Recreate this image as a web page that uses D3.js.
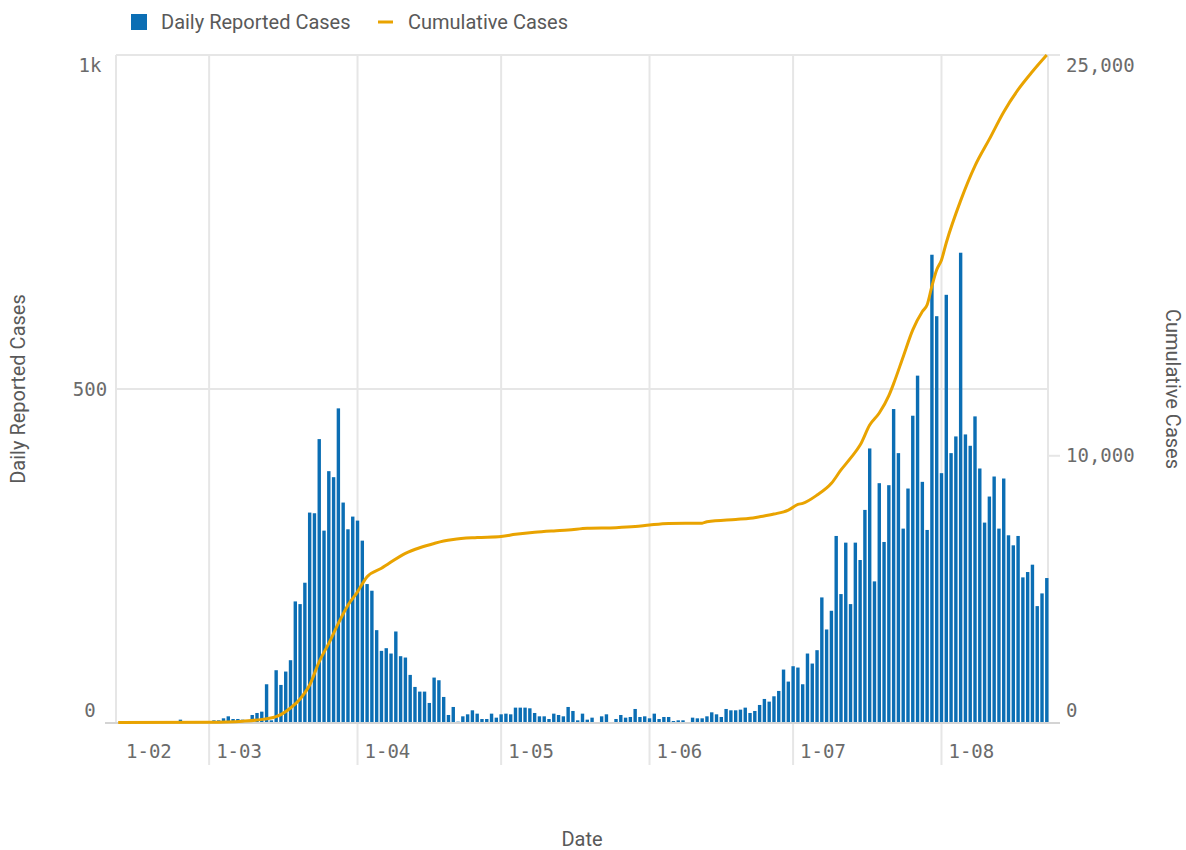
<!DOCTYPE html>
<html>
<head>
<meta charset="utf-8">
<script src="https://cdn.jsdelivr.net/npm/d3@7"></script>
<style>
  body { margin: 0; background: #ffffff; }
  text { font-family: Roboto, "Open Sans", sans-serif; }
</style>
</head>
<body>
<div id="wrapper"></div>
<script>
// daily reported cases, one value per day (Feb starts on the 11th)
const dailyFeb = [0, 0, 0, 0, 0, 0, 0, 0, 0, 0, 0, 0, 0, 5, 0, 0, 0, 0, 0];
const dailyMar = [0, 4, 4, 7, 10, 6, 6, 5, 3, 12, 15, 17, 58, 4, 79, 57, 77, 94, 182, 178,
  210, 315, 314, 425, 288, 377, 368, 471, 330, 290, 309];
const dailyApr = [303, 273, 208, 198, 139, 108, 112, 104, 137, 100, 98, 72, 54, 47, 47, 30,
  68, 64, 39, 12, 24, 2, 10, 13, 19, 14, 6, 6, 14, 8];
const dailyMay = [13, 14, 13, 23, 23, 23, 22, 15, 10, 10, 6, 14, 12, 10, 24, 18, 4, 14, 5, 8,
  1, 10, 13, 1, 6, 12, 8, 9, 21, 9, 10];
const dailyJun = [7, 14, 6, 9, 9, 3, 4, 4, 1, 8, 7, 7, 10, 16, 13, 9, 21, 19, 19, 20,
  23, 15, 18, 27, 36, 32, 40, 48, 80, 62];
const dailyJul = [85, 83, 58, 104, 89, 109, 188, 140, 168, 280, 193, 270, 178, 270, 244, 319,
  411, 212, 359, 271, 356, 470, 404, 291, 351, 460, 520, 361, 289, 701, 609];
const dailyAug = [374, 641, 404, 429, 704, 432, 415, 459, 381, 300, 339, 369, 291, 366, 281,
  266, 280, 218, 226, 237, 175, 194, 217];

// cumulative cases
const cumulativeDates = ["2020-02-11", "2020-03-01", "2020-03-08", "2020-03-11", "2020-03-15",
  "2020-03-18", "2020-03-20", "2020-03-22", "2020-03-24", "2020-03-26", "2020-03-28",
  "2020-03-30", "2020-04-01", "2020-04-03", "2020-04-06", "2020-04-11", "2020-04-14",
  "2020-04-17", "2020-04-19", "2020-04-21", "2020-04-26", "2020-05-01", "2020-05-04",
  "2020-05-08", "2020-05-12", "2020-05-15", "2020-05-19", "2020-05-25", "2020-05-29",
  "2020-06-01", "2020-06-05", "2020-06-12", "2020-06-13", "2020-06-19", "2020-06-22",
  "2020-06-24", "2020-06-27", "2020-06-30", "2020-07-02", "2020-07-03", "2020-07-06",
  "2020-07-09", "2020-07-11", "2020-07-13", "2020-07-15", "2020-07-17", "2020-07-19",
  "2020-07-21", "2020-07-22", "2020-07-24", "2020-07-26", "2020-07-28", "2020-07-29",
  "2020-07-30", "2020-07-31", "2020-08-01", "2020-08-02", "2020-08-05", "2020-08-08",
  "2020-08-11", "2020-08-14", "2020-08-17", "2020-08-20", "2020-08-23"];
const cumulativeValues = [15, 30, 70, 112, 236,
  560, 900, 1420, 2300, 2980, 3730,
  4410, 4910, 5475, 5790, 6350, 6560,
  6720, 6810, 6870, 6940, 6980, 7060,
  7140, 7190, 7220, 7290, 7310, 7350,
  7410, 7470, 7480, 7530, 7620, 7660,
  7720, 7820, 7970, 8180, 8220, 8530,
  8970, 9470, 9910, 10400, 11150, 11600,
  12250, 12700, 13710, 14710, 15400, 15650,
  16350, 16960, 17330, 17975, 19550, 20850,
  21850, 22870, 23700, 24380, 25000];

const monthStarts = ["2020-02-01", "2020-03-01", "2020-04-01", "2020-05-01", "2020-06-01",
  "2020-07-01", "2020-08-01"];
const monthLabels = ["1-02", "1-03", "1-04", "1-05", "1-06", "1-07", "1-08"];
const leftTicks = [0, 500, 1000];
const leftTickLabels = ["0", "500", "1k"];
const rightTicks = [0, 10000, 25000];
const rightTickLabels = ["0", "10,000", "25,000"];

const parseDate = d3.timeParse("%Y-%m-%d");
const firstDay = parseDate("2020-02-11");
const lastDay = parseDate("2020-08-23");

let dimensions = {
  width: 1186,
  height: 850,
  margin: { top: 55, right: 138, bottom: 127, left: 116 }
};
dimensions.boundedWidth = dimensions.width - dimensions.margin.left - dimensions.margin.right;
dimensions.boundedHeight = dimensions.height - dimensions.margin.top - dimensions.margin.bottom;

const barColor = "#0b6eb4";
const lineColor = "#e9a300";
const gridColor = "#e6e6e6";
const labelColor = "#6b6b6b";

const dailyData = [dailyFeb, dailyMar, dailyApr, dailyMay, dailyJun, dailyJul, dailyAug]
  .flat()
  .map((value, i) => ({ date: d3.timeDay.offset(firstDay, i), value }));

const cumulativeData = cumulativeDates.map((d, i) => ({
  date: parseDate(d),
  value: cumulativeValues[i]
}));

const wrapper = d3.select("#wrapper")
  .append("svg")
  .attr("width", dimensions.width)
  .attr("height", dimensions.height);

const bounds = wrapper.append("g")
  .attr("transform", `translate(${dimensions.margin.left}, ${dimensions.margin.top})`);

const xScale = d3.scaleTime()
  .domain([d3.timeHour.offset(firstDay, -10.5), d3.timeHour.offset(lastDay, 6)])
  .range([0, dimensions.boundedWidth]);

const yScale = d3.scaleLinear()
  .domain([0, 1000])
  .range([dimensions.boundedHeight, 0]);

const yScaleRight = d3.scaleLinear()
  .domain([0, 25000])
  .range([dimensions.boundedHeight, 0]);

// grid
const grid = bounds.append("g");

grid.selectAll(".hgrid")
  .data(leftTicks.filter(t => t > 0))
  .join("line")
  .attr("x1", 0)
  .attr("x2", dimensions.boundedWidth)
  .attr("y1", d => yScale(d))
  .attr("y2", d => yScale(d))
  .attr("stroke", gridColor)
  .attr("stroke-width", 2);

const monthDates = monthStarts.map(parseDate);

grid.selectAll(".vgrid")
  .data(monthDates.filter(d => xScale(d) > 0))
  .join("line")
  .attr("x1", d => xScale(d))
  .attr("x2", d => xScale(d))
  .attr("y1", 0)
  .attr("y2", dimensions.boundedHeight + 42)
  .attr("stroke", gridColor)
  .attr("stroke-width", 2);

// frame
grid.append("line")
  .attr("x1", 0).attr("x2", 0)
  .attr("y1", 0).attr("y2", dimensions.boundedHeight)
  .attr("stroke", gridColor).attr("stroke-width", 2);

grid.append("line")
  .attr("x1", dimensions.boundedWidth).attr("x2", dimensions.boundedWidth)
  .attr("y1", 0).attr("y2", dimensions.boundedHeight)
  .attr("stroke", gridColor).attr("stroke-width", 2);

grid.selectAll(".rtick")
  .data(rightTicks)
  .join("line")
  .attr("x1", dimensions.boundedWidth)
  .attr("x2", dimensions.boundedWidth + 12)
  .attr("y1", d => yScaleRight(d))
  .attr("y2", d => yScaleRight(d))
  .attr("stroke", gridColor)
  .attr("stroke-width", 2);

// bars
bounds.append("g")
  .selectAll("rect")
  .data(dailyData.filter(d => d.value > 0))
  .join("rect")
  .attr("x", d => xScale(d.date) - 1.7)
  .attr("width", 3.4)
  .attr("y", d => yScale(d.value))
  .attr("height", d => dimensions.boundedHeight - yScale(d.value))
  .attr("fill", barColor);

// baseline
bounds.append("line")
  .attr("x1", -11)
  .attr("x2", dimensions.boundedWidth + 12)
  .attr("y1", dimensions.boundedHeight)
  .attr("y2", dimensions.boundedHeight)
  .attr("stroke", "#d4d4d4")
  .attr("stroke-width", 2);

// cumulative line
const lineGenerator = d3.line()
  .x(d => xScale(d.date))
  .y(d => yScaleRight(d.value))
  .curve(d3.curveMonotoneX);

bounds.append("path")
  .datum(cumulativeData)
  .attr("d", lineGenerator)
  .attr("fill", "none")
  .attr("stroke", lineColor)
  .attr("stroke-width", 3)
  .attr("stroke-linejoin", "round");

// axis labels (numbers)
const clampY = y => Math.max(10, Math.min(dimensions.boundedHeight - 13, y));

bounds.append("g")
  .selectAll("text")
  .data(leftTicks)
  .join("text")
  .attr("x", -26)
  .attr("y", d => clampY(yScale(d)))
  .attr("dy", "0.35em")
  .attr("text-anchor", "middle")
  .style("font-family", "'DejaVu Sans Mono', monospace")
  .style("font-size", "19px")
  .attr("fill", labelColor)
  .text((d, i) => leftTickLabels[i]);

bounds.append("g")
  .selectAll("text")
  .data(rightTicks)
  .join("text")
  .attr("x", dimensions.boundedWidth + 18)
  .attr("y", d => clampY(yScaleRight(d)))
  .attr("dy", "0.35em")
  .attr("text-anchor", "start")
  .style("font-family", "'DejaVu Sans Mono', monospace")
  .style("font-size", "19px")
  .attr("fill", labelColor)
  .text((d, i) => rightTickLabels[i]);

bounds.append("g")
  .selectAll("text")
  .data(monthDates)
  .join("text")
  .attr("x", d => Math.max(10, xScale(d) + 7))
  .attr("y", dimensions.boundedHeight + 28)
  .attr("dy", "0.35em")
  .style("font-family", "'DejaVu Sans Mono', monospace")
  .style("font-size", "19px")
  .attr("fill", labelColor)
  .text((d, i) => monthLabels[i]);

// axis titles
wrapper.append("text")
  .attr("transform", `translate(18, ${dimensions.margin.top + dimensions.boundedHeight / 2}) rotate(-90)`)
  .attr("text-anchor", "middle")
  .attr("dy", "0.35em")
  .style("font-size", "20px")
  .attr("fill", "#595959")
  .text("Daily Reported Cases");

wrapper.append("text")
  .attr("transform", `translate(1173, ${dimensions.margin.top + dimensions.boundedHeight / 2}) rotate(90)`)
  .attr("text-anchor", "middle")
  .attr("dy", "0.35em")
  .style("font-size", "20px")
  .attr("fill", "#595959")
  .text("Cumulative Cases");

wrapper.append("text")
  .attr("x", dimensions.margin.left + dimensions.boundedWidth / 2)
  .attr("y", 839)
  .attr("dy", "0.35em")
  .attr("text-anchor", "middle")
  .style("font-size", "20px")
  .attr("fill", "#595959")
  .text("Date");

// legend
const legend = wrapper.append("g");

legend.append("rect")
  .attr("x", 131).attr("y", 14)
  .attr("width", 16).attr("height", 16)
  .attr("fill", barColor);

legend.append("text")
  .attr("x", 161).attr("y", 22)
  .attr("dy", "0.35em")
  .style("font-size", "20px")
  .attr("fill", "#595959")
  .text("Daily Reported Cases");

legend.append("line")
  .attr("x1", 378).attr("x2", 393)
  .attr("y1", 22).attr("y2", 22)
  .attr("stroke", lineColor)
  .attr("stroke-width", 3);

legend.append("text")
  .attr("x", 408).attr("y", 22)
  .attr("dy", "0.35em")
  .style("font-size", "20px")
  .attr("fill", "#595959")
  .text("Cumulative Cases");
</script>
</body>
</html>
